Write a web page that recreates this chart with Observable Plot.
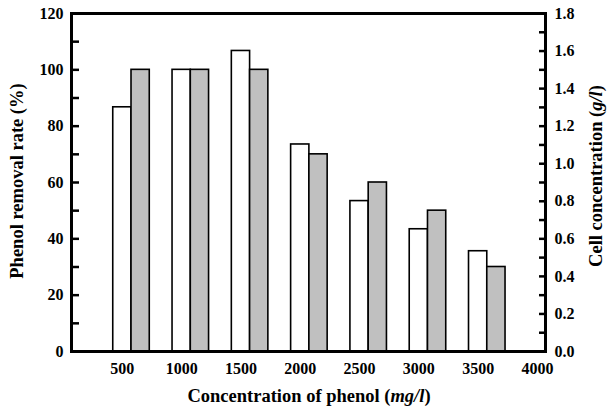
<!DOCTYPE html>
<html>
<head>
<meta charset="utf-8">
<script src="https://cdn.jsdelivr.net/npm/d3@7"></script>
<script src="https://cdn.jsdelivr.net/npm/@observablehq/plot@0.6"></script>
<style>
  html, body { margin: 0; padding: 0; background: #fff; }
</style>
</head>
<body>
<div id="chart"></div>
<script>
// ---- data ----
const concentrations = [500, 1000, 1500, 2000, 2500, 3000, 3500];
const removalRate = [86.7, 100, 106.7, 73.5, 53.4, 43.4, 35.6];      // %
const cellConcentration = [1.5, 1.5, 1.5, 1.05, 0.9, 0.75, 0.45];   // g/l
const xTicks = [500, 1000, 1500, 2000, 2500, 3000, 3500, 4000];
const leftTicks = [0, 20, 40, 60, 80, 100, 120];
const leftMinor = [10, 30, 50, 70, 90, 110];
const rightTicks = [0, 0.2, 0.4, 0.6, 0.8, 1.0, 1.2, 1.4, 1.6, 1.8];
const rightMinor = [0.1, 0.3, 0.5, 0.7, 0.9, 1.1, 1.3, 1.5, 1.7];

// ---- derived table ----
const leftMax = 120, rightMax = 1.8;
const toLeft = v => v * leftMax / rightMax;
const rows = concentrations.map((c, i) => ({conc: c, removal: removalRate[i], cell: cellConcentration[i]}));
const halfW = 77; // bar half width in x units

const font = "'Liberation Serif', 'Times New Roman', serif";
const tickStyle = {fontFamily: font, fontWeight: "bold", fontSize: 16, fill: "black"};

const chart = Plot.plot({
  width: 607,
  height: 413,
  marginLeft: 71,
  marginRight: 62,
  marginTop: 13,
  marginBottom: 62,
  style: {fontFamily: font, fontWeight: "bold", fontSize: "16px", background: "white", color: "black"},
  x: {domain: [71, 4068]},
  y: {domain: [0, leftMax]},
  marks: [
    Plot.rectY(rows, {x1: d => d.conc - halfW, x2: d => d.conc + halfW, y: "removal",
      fill: "white", stroke: "black", strokeWidth: 1.6}),
    Plot.rectY(rows, {x1: d => d.conc + halfW, x2: d => d.conc + 3 * halfW, y: d => toLeft(d.cell),
      fill: "#c0c0c0", stroke: "black", strokeWidth: 1.6}),
    // left axis
    Plot.axisY({anchor: "left", ticks: leftTicks, tickSize: 8, dx: 8, text: null, strokeWidth: 2.5, label: null}),
    Plot.axisY({anchor: "left", ticks: leftMinor, tickSize: 8, dx: 8, text: null, strokeWidth: 2.5, label: null}),
    Plot.axisY({anchor: "left", ticks: leftTicks, tickSize: 0, tickPadding: 8, label: null, ...tickStyle}),
    // right axis
    Plot.axisY({anchor: "right", ticks: rightTicks.map(toLeft), tickSize: 7, dx: -7, text: null, strokeWidth: 2.5, label: null}),
    Plot.axisY({anchor: "right", ticks: rightMinor.map(toLeft), tickSize: 7, dx: -7, text: null, strokeWidth: 2.5, label: null}),
    Plot.axisY({anchor: "right", ticks: rightTicks.map(toLeft), tickSize: 0, tickPadding: 9, label: null,
      tickFormat: d => (d * rightMax / leftMax).toFixed(1), ...tickStyle}),
    // x axis
    Plot.axisX({anchor: "bottom", ticks: xTicks, tickSize: 0, tickPadding: 11, label: null,
      tickFormat: d => String(d), ...tickStyle}),
    Plot.frame({stroke: "black", strokeWidth: 3})
  ]
});

document.getElementById("chart").appendChild(chart);

// ---- axis titles (mixed bold / italic) ----
const svg = d3.select(chart);
const titleSize = 18.5;

const lt = svg.append("text")
  .attr("transform", "translate(17,181) rotate(-90)")
  .attr("text-anchor", "middle").attr("dominant-baseline", "central")
  .style("font-family", font).style("font-weight", "bold").style("font-size", titleSize + "px")
  .attr("fill", "black");
lt.text("Phenol removal rate (%)");

const rt = svg.append("text")
  .attr("transform", "translate(596,176) rotate(-90)")
  .attr("text-anchor", "middle").attr("dominant-baseline", "central")
  .style("font-family", font).style("font-weight", "bold").style("font-size", titleSize + "px")
  .attr("fill", "black");
rt.append("tspan").text("Cell concentration (");
rt.append("tspan").style("font-style", "italic").text("g/l");
rt.append("tspan").text(")");

const xt = svg.append("text")
  .attr("transform", "translate(309,396)")
  .attr("text-anchor", "middle").attr("dominant-baseline", "central")
  .style("font-family", font).style("font-weight", "bold").style("font-size", titleSize + "px")
  .attr("fill", "black");
xt.append("tspan").text("Concentration of phenol (");
xt.append("tspan").style("font-style", "italic").text("mg/l");
xt.append("tspan").text(")");
</script>
</body>
</html>
